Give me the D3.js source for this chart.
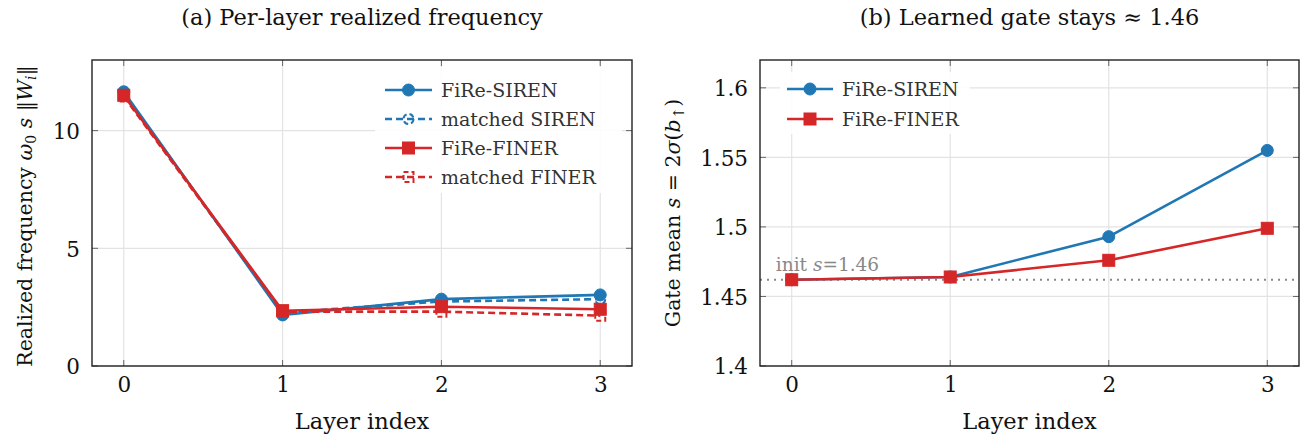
<!DOCTYPE html>
<html>
<head>
<meta charset="utf-8">
<script src="https://cdn.jsdelivr.net/npm/d3@7"></script>
<style>
  html, body { margin: 0; padding: 0; background: #fff; }
  svg { display: block; }
  svg text { font-family: 'DejaVu Serif', 'Liberation Serif', serif; }
</style>
</head>
<body>
<svg id="fig" width="1301" height="434"></svg>
<script>
// ---- data ----
const layers = [0, 1, 2, 3];

// (a) realized frequency per layer
const fireSiren    = [11.65, 2.17, 2.84, 3.02];
const matchedSiren = [11.55, 2.27, 2.74, 2.84];
const fireFiner    = [11.50, 2.35, 2.52, 2.41];
const matchedFiner = [11.45, 2.31, 2.31, 2.14];
const freqTicks = [0, 5, 10];

// (b) learned gate mean per layer
const gateSiren = [1.462, 1.464, 1.493, 1.555];
const gateFiner = [1.462, 1.464, 1.476, 1.499];
const gateInit = 1.462;
const gateTicks = [1.4, 1.45, 1.5, 1.55, 1.6];
const gateTickLabels = ["1.4", "1.45", "1.5", "1.55", "1.6"];

const BLUE = "#1f77b4", RED = "#d62728";
const svg = d3.select("#fig");

function panel(opts) {
  const { left, right, top, bottom, yDomain, yTicks, yLabels, title } = opts;
  const x = d3.scaleLinear().domain([-0.2, 3.2]).range([left, right]);
  const y = d3.scaleLinear().domain(yDomain).range([bottom, top]);
  const g = svg.append("g");

  // grid
  g.append("g").selectAll("line").data(layers).join("line")
    .attr("x1", d => x(d)).attr("x2", d => x(d))
    .attr("y1", top).attr("y2", bottom)
    .attr("stroke", "#e3e3e3").attr("stroke-width", 1.2);
  g.append("g").selectAll("line").data(yTicks).join("line")
    .attr("y1", d => y(d)).attr("y2", d => y(d))
    .attr("x1", left).attr("x2", right)
    .attr("stroke", "#e3e3e3").attr("stroke-width", 1.2);

  // inward tick marks on all four sides
  const tl = 6, tc = "#666";
  const tk = g.append("g").attr("stroke", tc).attr("stroke-width", 1);
  layers.forEach(d => {
    tk.append("line").attr("x1", x(d)).attr("x2", x(d)).attr("y1", bottom).attr("y2", bottom - tl);
    tk.append("line").attr("x1", x(d)).attr("x2", x(d)).attr("y1", top).attr("y2", top + tl);
  });
  yTicks.forEach(d => {
    tk.append("line").attr("y1", y(d)).attr("y2", y(d)).attr("x1", left).attr("x2", left + tl);
    tk.append("line").attr("y1", y(d)).attr("y2", y(d)).attr("x1", right).attr("x2", right - tl);
  });

  // tick labels via d3 axes
  const xa = g.append("g").attr("transform", `translate(0,${bottom})`)
    .call(d3.axisBottom(x).tickValues(layers).tickSize(0).tickPadding(11).tickFormat(d3.format("d")));
  const ya = g.append("g").attr("transform", `translate(${left},0)`)
    .call(d3.axisLeft(y).tickValues(yTicks).tickSize(0).tickPadding(12)
      .tickFormat((d, i) => yLabels[i]));
  [xa, ya].forEach(a => {
    a.select(".domain").remove();
    a.attr("font-family", null);
    a.selectAll("text").attr("font-size", 21.5).attr("fill", "#111");
  });
  ya.selectAll("text").attr("dy", "0.36em");
  xa.selectAll("text").attr("dy", "0.72em");

  // title
  svg.append("text").attr("x", (left + right) / 2).attr("y", 25)
    .attr("text-anchor", "middle").attr("font-size", 22.5).attr("fill", "#111")
    .text(title);

  // x label
  svg.append("text").attr("x", (left + right) / 2).attr("y", 429)
    .attr("text-anchor", "middle").attr("font-size", 22.5).attr("fill", "#111")
    .text("Layer index");

  return { g, x, y, left, right, top, bottom };
}

function drawSeries(p, vals, color, shape, dashed) {
  const line = d3.line().x((d, i) => p.x(layers[i])).y(d => p.y(d));
  p.g.append("path").datum(vals).attr("d", line)
    .attr("fill", "none").attr("stroke", color).attr("stroke-width", 2.6)
    .attr("stroke-linejoin", "round")
    .attr("stroke-dasharray", dashed ? "7,4" : null);
  const mg = p.g.append("g");
  vals.forEach((v, i) => drawMarker(mg, p.x(layers[i]), p.y(v), color, shape, dashed));
}

function drawMarker(sel, cx, cy, color, shape, dashed) {
  if (shape === "circle") {
    sel.append("circle").attr("cx", cx).attr("cy", cy).attr("r", dashed ? 5 : 6)
      .attr("fill", dashed ? "none" : color).attr("stroke", color)
      .attr("stroke-width", dashed ? 2 : 1)
      .attr("stroke-dasharray", dashed ? "5,3" : null);
  } else {
    const s = dashed ? 10 : 12;
    sel.append("rect").attr("x", cx - s / 2).attr("y", cy - s / 2)
      .attr("width", s).attr("height", s)
      .attr("fill", dashed ? "none" : color).attr("stroke", color)
      .attr("stroke-width", dashed ? 2 : 1)
      .attr("stroke-dasharray", dashed ? "5,3" : null);
  }
}

function legend(p, x0, y0, w, h, items) {
  const lg = svg.append("g");
  lg.append("rect").attr("x", x0).attr("y", y0).attr("width", w).attr("height", h)
    .attr("fill", "#fff").attr("fill-opacity", 0.88);
  items.forEach(it => {
    const cy = it.y;
    lg.append("line").attr("x1", it.x1).attr("x2", it.x2).attr("y1", cy).attr("y2", cy)
      .attr("stroke", it.color).attr("stroke-width", 2.6)
      .attr("stroke-dasharray", it.dashed ? "7,4" : null);
    drawMarker(lg, (it.x1 + it.x2) / 2, cy, it.color, it.shape, it.dashed);
    lg.append("text").attr("x", it.x2 + 9).attr("y", cy).attr("dy", "0.36em")
      .attr("font-size", 19).attr("fill", "#333").text(it.label);
  });
}

function frame(p) {
  svg.append("rect").attr("x", p.left).attr("y", p.top)
    .attr("width", p.right - p.left).attr("height", p.bottom - p.top)
    .attr("fill", "none").attr("stroke", "#222").attr("stroke-width", 1.4);
}

// ---- (a) ----
const pa = panel({
  left: 92, right: 632, top: 60, bottom: 366,
  yDomain: [0, 13], yTicks: freqTicks, yLabels: freqTicks.map(String),
  title: "(a) Per-layer realized frequency"
});
drawSeries(pa, fireSiren, BLUE, "circle", false);
drawSeries(pa, matchedSiren, BLUE, "circle", true);
drawSeries(pa, fireFiner, RED, "square", false);
drawSeries(pa, matchedFiner, RED, "square", true);
frame(pa);

// y label (a)
{
  const t = svg.append("text").attr("transform", "translate(32,216) rotate(-90)")
    .attr("text-anchor", "middle").attr("font-size", 20.5).attr("fill", "#111");
  t.append("tspan").text("Realized frequency ");
  t.append("tspan").attr("font-style", "italic").text("ω");
  t.append("tspan").attr("font-size", 14).attr("dy", 4).text("0");
  t.append("tspan").attr("dy", -4).text(" ");
  t.append("tspan").attr("font-style", "italic").text("s");
  t.append("tspan").text(" ‖");
  t.append("tspan").attr("font-style", "italic").text("W");
  t.append("tspan").attr("font-style", "italic").attr("font-size", 14).attr("dy", 4).text("i");
  t.append("tspan").attr("dy", -4).text("‖");
}

legend(pa, 375, 67, 247, 126, [
  { label: "FiRe-SIREN",    color: BLUE, shape: "circle", dashed: false, x1: 385, x2: 432, y: 90 },
  { label: "matched SIREN", color: BLUE, shape: "circle", dashed: true,  x1: 385, x2: 432, y: 119 },
  { label: "FiRe-FINER",    color: RED,  shape: "square", dashed: false, x1: 385, x2: 432, y: 148 },
  { label: "matched FINER", color: RED,  shape: "square", dashed: true,  x1: 385, x2: 432, y: 177 }
]);

// ---- (b) ----
const pb = panel({
  left: 760, right: 1299, top: 60, bottom: 366,
  yDomain: [1.4, 1.62], yTicks: gateTicks, yLabels: gateTickLabels,
  title: "(b) Learned gate stays \u2248 1.46"
});

// initial gate reference
pb.g.append("line").attr("x1", pb.left).attr("x2", pb.right)
  .attr("y1", pb.y(gateInit)).attr("y2", pb.y(gateInit))
  .attr("stroke", "#888").attr("stroke-width", 2).attr("stroke-dasharray", "2,5");
{
  const t = pb.g.append("text").attr("x", pb.x(-0.1)).attr("y", pb.y(gateInit) - 9)
    .attr("font-size", 18.5).attr("fill", "#888");
  t.append("tspan").text("init ");
  t.append("tspan").attr("font-style", "italic").text("s");
  t.append("tspan").text("=" + d3.format(".2f")(gateInit));
}

drawSeries(pb, gateSiren, BLUE, "circle", false);
drawSeries(pb, gateFiner, RED, "square", false);
frame(pb);

// y label (b)
{
  const t = svg.append("text").attr("transform", "translate(680,213) rotate(-90)")
    .attr("text-anchor", "middle").attr("font-size", 20.5).attr("fill", "#111");
  t.append("tspan").text("Gate mean ");
  t.append("tspan").attr("font-style", "italic").text("s");
  t.append("tspan").text(" = 2");
  t.append("tspan").attr("font-style", "italic").text("σ");
  t.append("tspan").text("(");
  t.append("tspan").attr("font-style", "italic").text("b");
  t.append("tspan").attr("font-size", 15).attr("dy", 4).text("↑");
  t.append("tspan").attr("dy", -4).text(")");
}

legend(pb, 780, 72, 190, 62, [
  { label: "FiRe-SIREN", color: BLUE, shape: "circle", dashed: false, x1: 787, x2: 833, y: 89 },
  { label: "FiRe-FINER", color: RED,  shape: "square", dashed: false, x1: 787, x2: 833, y: 119 }
]);
</script>
</body>
</html>
